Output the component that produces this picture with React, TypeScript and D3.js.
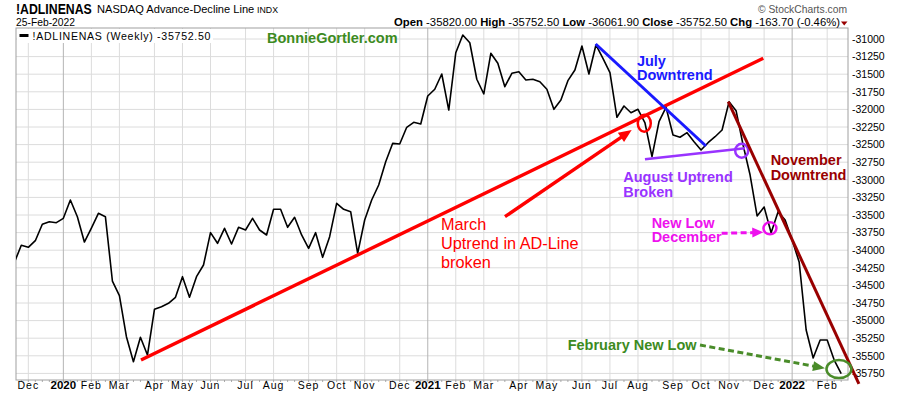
import React from "react";
import * as d3 from "d3";

const W = 900;
const H = 396;

// Weekly bars (week-start Mondays) beginning 18-Nov-2019
const firstWeek = new Date(2019, 10, 18);
const adValues = [
  -34176, -33930, -33959, -33865, -33632, -33595, -33609, -33547, -33287, -33524,
  -33884, -33685, -33476, -33524, -34438, -34646, -35229, -35584, -35237, -35489,
  -34839, -34803, -34754, -34669, -34376, -34669, -34376, -34210, -33751, -33902,
  -33689, -33912, -33675, -33713, -33547, -33713, -33784, -33419, -33419, -33675,
  -33533, -33784, -33973, -33751, -34101, -33808, -33334, -33419, -33453, -34044,
  -33571, -33287, -33074, -32743, -32482, -32491, -32254, -32183, -32207, -31810,
  -31714, -31497, -32009, -31195, -30943, -31053, -31572, -31781, -31203, -31345,
  -31678, -31487, -31464, -31582, -31572, -31607, -31714, -31999, -31866, -31592,
  -31440, -31099, -31497, -31085, -31274, -31479, -32112, -31952, -32047, -31999,
  -32193, -32672, -32175, -31970, -32364, -32396, -32331, -32459, -32577, -32473,
  -32388, -32293, -31891, -32018, -32506, -32932, -33514, -33386, -33751, -33453,
  -33571, -33855, -34168, -35134, -35531, -35276, -35276, -35560, -35752.5,
];

const yTickValues = [
  -31000, -31250, -31500, -31750, -32000, -32250, -32500, -32750, -33000, -33250,
  -33500, -33750, -34000, -34250, -34500, -34750, -35000, -35250, -35500, -35750,
];

const monthStarts = [
  "2019-12-01", "2020-01-01", "2020-02-01", "2020-03-01", "2020-04-01", "2020-05-01",
  "2020-06-01", "2020-07-01", "2020-08-01", "2020-09-01", "2020-10-01", "2020-11-01",
  "2020-12-01", "2021-01-01", "2021-02-01", "2021-03-01", "2021-04-01", "2021-05-01",
  "2021-06-01", "2021-07-01", "2021-08-01", "2021-09-01", "2021-10-01", "2021-11-01",
  "2021-12-01", "2022-01-01", "2022-02-01",
];

// Annotation geometry in data space: [week index, value]
const redTrend = [[18.08, -35560], [106.88, -31274]];
const redArrow = [[70.02, -33524], [88.1, -32293]];
const redCircle = [89.9, -32197];
const julyLine = [[82.96, -31071], [98.7, -32520]];
const augLine = [[90.0, -32709], [104.27, -32552]];
const augCircle = [103.8, -32587];
const novLine = [[101.88, -31891], [120.53, -35900]];
const decArrow = [[100.94, -33760], [106.88, -33746]];
const decCircle = [107.83, -33689];
const febArrow = [[97.85, -35347], [115.68, -35677]];
const febEllipse = [117.68, -35688];

const labels = [
  { pos: [88.85, -31379], lines: ["July", "Downtrend"], color: "#1a1aff", bold: true },
  { pos: [86.9, -33027], lines: ["August Uptrend", "Broken"], color: "#9933ff", bold: true },
  { pos: [107.93, -32790], lines: ["November", "Downtrend"], color: "#990000", bold: true },
  { pos: [90.95, -33680], lines: ["New Low", "December"], color: "#ee11ee", bold: true },
  { pos: [78.97, -35418], lines: ["February New Low"], color: "#3d8b1e", bold: true },
  { pos: [60.89, -33713], lines: ["March", "Uptrend in AD-Line", "broken"], color: "#ff0000", bold: false },
];

const FONT = "'Liberation Sans', Arial, Helvetica, sans-serif";

const PL = 16, PR = 848, PT = 28, PB = 380;

export default function App() {
  const dates = adValues.map((_, i) => d3.timeDay.offset(firstWeek, 7 * i));
  const x = d3.scaleLinear().domain([0, 118]).range([14.3, 841.2]);
  const y = d3.scaleLinear().domain([-30843.75, -35843.75]).range([PT, PB]);

  const line = d3
    .line<number>()
    .x((_, i) => x(i))
    .y((d) => y(d));

  const parse = d3.timeParse("%Y-%m-%d");
  const months = monthStarts.map((s) => {
    const d = parse(s)!;
    const idx = dates.findIndex((w) => w >= d);
    const isYear = d.getMonth() === 0;
    return { idx, label: isYear ? d3.timeFormat("%Y")(d) : d3.timeFormat("%b")(d), isYear };
  });

  const P = (p: number[]) => [x(p[0]), y(p[1])];
  const seg = (s: number[][], props: any) => {
    const a = P(s[0]);
    const b = P(s[1]);
    return <line x1={a[0]} y1={a[1]} x2={b[0]} y2={b[1]} {...props} />;
  };
  const arrowHead = (s: number[][], color: string, len: number, wid: number) => {
    const a = P(s[0]);
    const b = P(s[1]);
    const ang = Math.atan2(b[1] - a[1], b[0] - a[0]);
    const bx = b[0] - len * Math.cos(ang);
    const by = b[1] - len * Math.sin(ang);
    const nx = -Math.sin(ang) * wid / 2;
    const ny = Math.cos(ang) * wid / 2;
    return (
      <polygon points={`${b[0]},${b[1]} ${bx + nx},${by + ny} ${bx - nx},${by - ny}`} fill={color} />
    );
  };
  const shortSeg = (s: number[][], cut: number) => {
    const a = P(s[0]);
    const b = P(s[1]);
    const ang = Math.atan2(b[1] - a[1], b[0] - a[0]);
    return [[a[0], a[1]], [b[0] - cut * Math.cos(ang), b[1] - cut * Math.sin(ang)]];
  };

  const redA = shortSeg(redArrow, 8);
  const decA = shortSeg(decArrow, 9);
  const febA = shortSeg(febArrow, 10);

  return (
    <svg width={W} height={H} style={{ position: "absolute", left: 0, top: 0, background: "#fff" }} fontFamily={FONT}>
      <rect x={0} y={0} width={W} height={H} fill="#fff" />
      <defs>
        <clipPath id="plot">
          <rect x={PL} y={PT} width={PR - PL} height={PB - PT} />
        </clipPath>
      </defs>

      {/* grid */}
      {yTickValues.map((v) => (
        <line key={v} x1={PL} x2={PR} y1={y(v)} y2={y(v)} stroke="#dcdcdc" strokeWidth={1} />
      ))}
      {months.map((m) => (
        <line key={m.idx} x1={x(m.idx)} x2={x(m.idx)} y1={PT} y2={PB} stroke={m.isYear ? "#b4b4b4" : "#dcdcdc"} strokeWidth={1} />
      ))}
      {dates.map((_, i) =>
        x(i) >= PL && x(i) <= PR ? (
          <line key={"t" + i} x1={x(i)} x2={x(i)} y1={PB} y2={PB + 2} stroke="#aaa" strokeWidth={1} />
        ) : null
      )}
      <rect x={PL} y={PT} width={PR - PL} height={PB - PT} fill="none" stroke="#a0a0a0" strokeWidth={1} />

      {/* data line */}
      <path d={line(adValues) || ""} fill="none" stroke="#000" strokeWidth={1.6} clipPath="url(#plot)" strokeLinejoin="round" />

      {/* legend */}
      <rect x={17} y={29} width={196} height={14} fill="#fff" />
      <line x1={19.5} x2={28.5} y1={35.5} y2={35.5} stroke="#000" strokeWidth={3} />
      <text x={32.5} y={39.5} fontSize={10.6} textLength={178} lengthAdjust="spacing" fill="#000">
        !ADLINENAS (Weekly) -35752.50
      </text>
      <text x={267} y={43} fontSize={14.5} fontWeight="bold" fill="#3d8b1e">BonnieGortler.com</text>

      {/* y axis labels */}
      {yTickValues.map((v) => (
        <text key={"yl" + v} x={852} y={y(v) + 3.8} fontSize={10.5} fill="#000">{v}</text>
      ))}

      {/* x axis labels */}
      {months.map((m) => (
        <text
          key={"xl" + m.idx}
          x={x(m.idx)}
          y={388.5}
          fontSize={m.isYear ? 11.5 : 10.5}
          fontWeight={m.isYear ? "bold" : "normal"}
          textAnchor="middle"
          letterSpacing={m.isYear ? 0 : 1}
          fill="#000"
        >
          {m.label}
        </text>
      ))}

      {/* header */}
      <g transform="translate(16,14) scale(1,1.25)">
        <text x={0} y={0} fontSize={12.3} fontWeight="bold">!ADLINENAS</text>
      </g>
      <text x={97} y={13} fontSize={11.1}>NASDAQ Advance-Decline Line</text>
      <text x={257} y={13} fontSize={8.8}>INDX</text>
      <text x={16} y={26} fontSize={10.3}>25-Feb-2022</text>
      <text x={840} y={26} fontSize={11.3} textAnchor="end" fill="#000">
        <tspan fontWeight="bold">Open</tspan> -35820.00 <tspan fontWeight="bold">High</tspan> -35752.50{" "}
        <tspan fontWeight="bold">Low</tspan> -36061.90 <tspan fontWeight="bold">Close</tspan> -35752.50{" "}
        <tspan fontWeight="bold">Chg</tspan> -163.70 (-0.46%)
      </text>
      <polygon points="841,21.5 847.5,21.5 844.2,25.5" fill="#990000" />
      <text x={847} y={13} fontSize={10.3} textAnchor="end" fill="#555" textLength={89} lengthAdjust="spacing">© StockCharts.com</text>

      {/* annotations */}
      {seg(redTrend, { stroke: "#ff0000", strokeWidth: 3.4 })}
      <line x1={redA[0][0]} y1={redA[0][1]} x2={redA[1][0]} y2={redA[1][1]} stroke="#ff0000" strokeWidth={3.4} />
      {arrowHead(redArrow, "#ff0000", 13, 11)}
      <ellipse cx={P(redCircle)[0]} cy={P(redCircle)[1]} rx={6.5} ry={8.5} fill="none" stroke="#ff0000" strokeWidth={2.5} />

      {seg(julyLine, { stroke: "#1a1aff", strokeWidth: 3 })}
      {seg(augLine, { stroke: "#9933ff", strokeWidth: 2.6 })}
      <ellipse cx={P(augCircle)[0]} cy={P(augCircle)[1]} rx={6.5} ry={7} fill="none" stroke="#9933ff" strokeWidth={2.5} />

      {seg(novLine, { stroke: "#990000", strokeWidth: 3 })}

      <line x1={decA[0][0]} y1={decA[0][1]} x2={decA[1][0]} y2={decA[1][1]} stroke="#ee11ee" strokeWidth={3} strokeDasharray="6,3.5" />
      {arrowHead(decArrow, "#ee11ee", 11, 10)}
      <ellipse cx={P(decCircle)[0]} cy={P(decCircle)[1]} rx={6.5} ry={6} fill="none" stroke="#ee11ee" strokeWidth={2.5} />

      <line x1={febA[0][0]} y1={febA[0][1]} x2={febA[1][0]} y2={febA[1][1]} stroke="#4a8c2a" strokeWidth={3} strokeDasharray="6,3.5" />
      {arrowHead(febArrow, "#4a8c2a", 12, 10)}
      <ellipse cx={P(febEllipse)[0]} cy={P(febEllipse)[1]} rx={12.5} ry={9} fill="none" stroke="#4a8c2a" strokeWidth={2.5} />

      {labels.map((l, k) => {
        const p = P(l.pos);
        const lh = l.bold ? 14.8 : 19;
        return (
          <text key={"lab" + k} x={p[0]} y={p[1]} fill={l.color} fontSize={l.bold ? 14.5 : 16.3} fontWeight={l.bold ? "bold" : "normal"}>
            {l.lines.map((t, j) => (
              <tspan key={j} x={p[0]} y={p[1] + j * lh}>{t}</tspan>
            ))}
          </text>
        );
      })}
    </svg>
  );
}
